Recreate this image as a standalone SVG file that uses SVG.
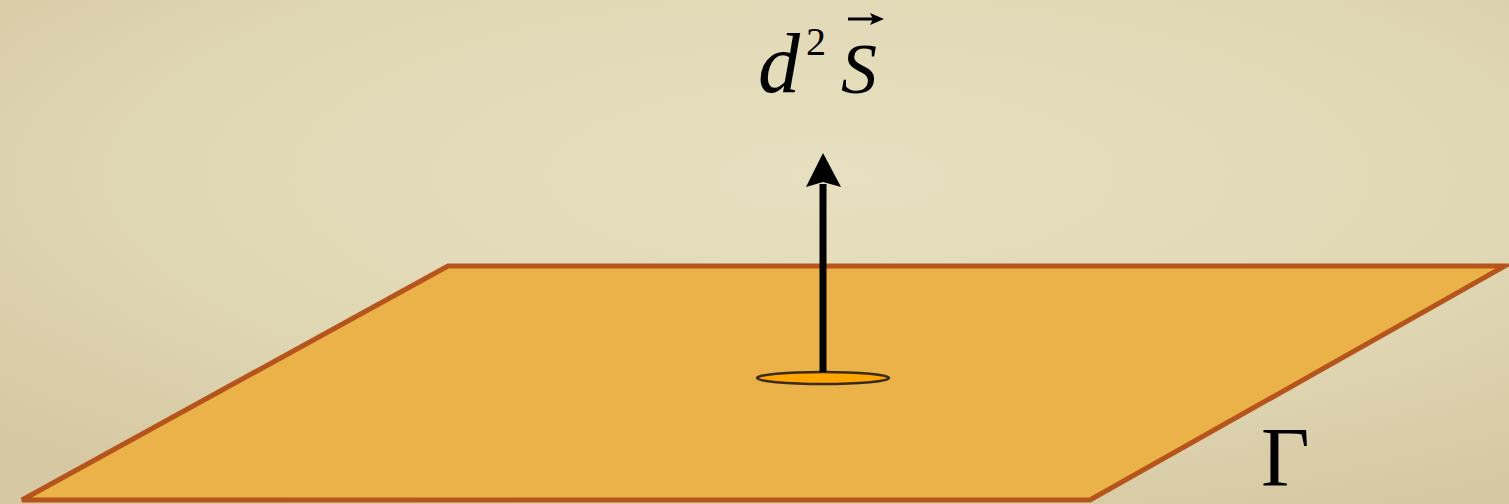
<svg xmlns="http://www.w3.org/2000/svg" width="1509" height="504" viewBox="0 0 1509 504">
<defs>
<radialGradient id="bg" cx="0.55" cy="0.35" r="0.75">
<stop offset="0" stop-color="#E6E0C0"/>
<stop offset="0.6" stop-color="#E0D7B4"/>
<stop offset="1" stop-color="#D6C8A2"/>
</radialGradient>
<style>
.math{font-family:"Liberation Serif","Times New Roman",serif;fill:#000}
</style>
</defs>
<rect width="1509" height="504" fill="url(#bg)"/>
<g id="plane">
<polygon points="448,266 1505,266 1090,500 22,500" fill="#EBB249" stroke="#B5541B" stroke-width="5" stroke-linejoin="miter"/>
</g>
<g id="element">
<ellipse cx="823" cy="378" rx="66" ry="6" fill="#FFA500" stroke="#3A2A1A" stroke-width="2.5"/>
</g>
<g id="connectors">
<line x1="823" y1="372" x2="823" y2="184" stroke="#000" stroke-width="7"/>
<polygon points="823,153 841,187 823,182 806,187" fill="#000"/>
</g>
<g id="label-dS">
<text class="math" x="758" y="92" font-size="84" font-style="italic">d</text>
<text class="math" x="806" y="55" font-size="40">2</text>
<text class="math" x="841" y="93" font-size="72" font-style="italic">S</text>
<line x1="848" y1="19" x2="874" y2="19" stroke="#000" stroke-width="3"/>
<polygon points="884,19 870,13 873,19 870,25" fill="#000"/>
</g>
<g id="label-gamma">
<text class="math" x="1261" y="486" font-size="84">Γ</text>
</g>
</svg>
